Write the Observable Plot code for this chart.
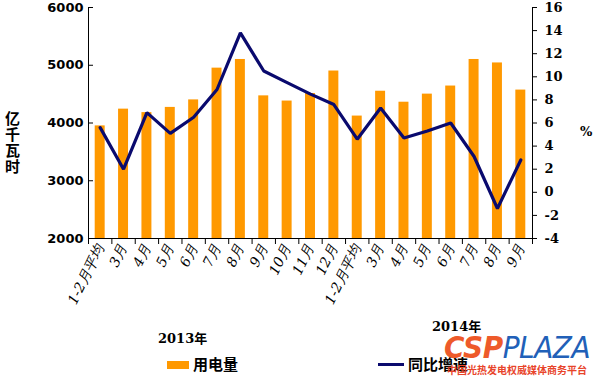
<!DOCTYPE html>
<html>
<head>
<meta charset="utf-8">
<script src="https://cdn.jsdelivr.net/npm/d3@7"></script>
<script src="https://cdn.jsdelivr.net/npm/@observablehq/plot@0.6"></script>
<style>
  html, body { margin: 0; padding: 0; background: #fff; }
  #wrap { position: relative; width: 598px; height: 385px; overflow: hidden; }
  .ov { position: absolute; white-space: nowrap; color: #000; }
</style>
</head>
<body>
<div id="wrap"></div>
<script>
const categories = ["1-2月平均","3月","4月","5月","6月","7月","8月","9月","10月","11月","12月",
                    "1-2月平均","3月","4月","5月","6月","7月","8月","9月"];
const consumption = [3950,4240,4180,4270,4400,4950,5100,4470,4380,4510,4900,
                     4120,4550,4360,4500,4640,5100,5040,4570];
const growth = [5.6,2.0,6.9,5.1,6.5,8.9,13.8,10.5,9.5,8.5,7.6,
                4.6,7.3,4.7,5.3,6.0,3.1,-1.4,2.8];
const leftTicks = [2000,3000,4000,5000,6000];
const rightTicks = [-4,-2,0,2,4,6,8,10,12,14,16];
const years = ["2013年","2014年"];
const legendLabels = ["用电量","同比增速"];
const leftTitle = "亿千瓦时";
const rightTitle = "%";

// map right-axis percentages onto left scale (−4..16 ↔ 2000..6000)
const toLeft = v => 2000 + (v + 4) * 200;
const fromLeft = y => Math.round((y - 2000) / 200 - 4);

const data = categories.map((c, i) => ({i, c, v: consumption[i], g: growth[i]}));

const chart = Plot.plot({
  width: 598,
  height: 385,
  marginLeft: 88,
  marginRight: 66,
  marginTop: 7,
  marginBottom: 147,
  style: {background: "transparent", overflow: "visible"},
  x: {domain: [0, categories.length], axis: null},
  y: {domain: [2000, 6000], axis: null},
  marks: [
    Plot.rectY(data, {x1: d => d.i, x2: d => d.i + 1, y1: 2000, y2: "v",
      fill: "#FF9900", insetLeft: 6.7, insetRight: 6.7}),
    Plot.lineY(data, {x: d => d.i + 0.5, y: d => toLeft(d.g),
      stroke: "#0A0A6E", strokeWidth: 3.2, strokeLinejoin: "miter"}),
    Plot.ruleX([0, categories.length], {stroke: "#000", strokeWidth: 1}),
    Plot.ruleY([2000], {stroke: "#000", strokeWidth: 1}),
    // left axis
    Plot.axisY({anchor: "left", label: null, ticks: leftTicks, tickSize: -5, tickPadding: 10,
      tickFormat: d => String(d),
      fontSize: 13, fontWeight: "bold", fontFamily: "DejaVu Sans", fill: "#000"}),
    // right axis
    Plot.axisY({anchor: "right", label: null, ticks: rightTicks.map(toLeft), tickSize: 4, tickPadding: 8,
      tickFormat: d => { const v = fromLeft(d); return v < 0 ? "-" + Math.abs(v) : String(v); },
      fontSize: 13, fontFamily: "DejaVu Serif", fontWeight: "bold", fill: "#000"}),
    // bottom tick marks at category boundaries
    Plot.axisX({anchor: "bottom", label: null, ticks: d3.range(0, categories.length + 1), tickSize: 6,
      tickFormat: () => ""}),
    // category labels
    Plot.axisX({anchor: "bottom", label: null, ticks: d3.range(0, categories.length).map(i => i + 0.5),
      tickSize: 0, tickPadding: 7, tickRotate: -64,
      tickFormat: d => categories[Math.floor(d)],
      fontSize: 14, fontStyle: "italic", fontFamily: "DejaVu Serif", fill: "#000"})
  ]
});

const wrap = document.getElementById("wrap");
wrap.appendChild(chart);

function ov(html, css) {
  const d = document.createElement("div");
  d.className = "ov";
  d.innerHTML = html;
  d.setAttribute("style", css);
  wrap.appendChild(d);
  return d;
}

ov(leftTitle, "left:4px;top:111px;writing-mode:vertical-rl;text-orientation:upright;font:bold 15px/17px 'Noto Sans CJK SC';letter-spacing:1px;");
ov(rightTitle, "left:580px;top:124px;font:bold 13px 'DejaVu Serif';");
ov(years[0], "left:158px;top:328px;font:bold 13px 'DejaVu Serif','Noto Sans CJK SC';");
ov(years[1], "left:432px;top:319px;font:bold 13px/15px 'DejaVu Serif','Noto Sans CJK SC';");
// legend
ov("", "left:167px;top:361px;width:22px;height:8px;background:#FF9900;");
ov(legendLabels[0], "left:193px;top:353px;font:bold 15px 'Noto Sans CJK SC';");
ov("", "left:378px;top:363px;width:26px;height:3px;background:#0A0A6E;");
ov(legendLabels[1], "left:408px;top:353px;font:bold 15px 'Noto Sans CJK SC';");
// watermark
ov("<span style='color:#EE5A2A;font-weight:900'>CSP</span><span style='color:#2160B8;font-weight:normal'>PLAZA</span>",
   "left:444px;top:335px;font:italic 31px/24px 'DejaVu Sans';letter-spacing:-0.5px;transform:scaleX(0.9);transform-origin:0 0;");
ov("中国光热发电权威媒体商务平台", "left:447px;top:363px;font:bold 10px/13px 'Noto Sans CJK SC';color:#E8442A;");
</script>
</body>
</html>
